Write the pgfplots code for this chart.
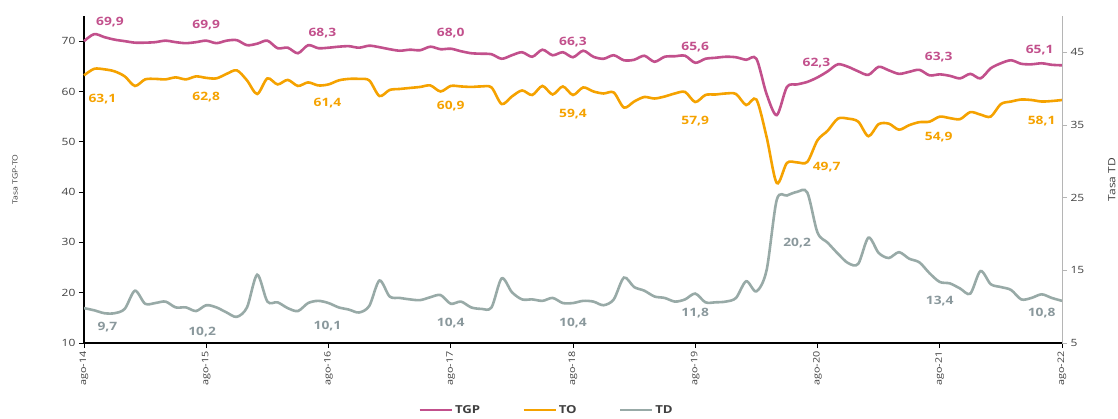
\documentclass[border=0pt]{standalone}
\usepackage{fontspec}
\setmainfont{Open Sans}[FakeStretch=1.2]
\usepackage{pgfplots}
\usepackage{pgfplotstable}
\pgfplotsset{compat=1.18}
\definecolor{cTGP}{HTML}{C2508C}
\definecolor{cTO}{HTML}{F5A200}
\definecolor{cTD}{HTML}{98AAA7}
\definecolor{cTDt}{HTML}{8A989C}
\definecolor{ctick}{HTML}{404040}
\definecolor{cright}{HTML}{B5B5B5}

\pgfplotstableread{
m tgp to td
0 70.0 63.2 9.8
1 71.4 64.5 9.5
2 70.8 64.4 9.1
3 70.3 64.0 9.1
4 70.0 63.0 9.7
5 69.7 61.1 12.2
6 69.7 62.4 10.4
7 69.8 62.5 10.5
8 70.1 62.4 10.7
9 69.8 62.8 9.9
10 69.6 62.4 9.9
11 69.8 63.0 9.4
12 70.1 62.7 10.2
13 69.6 62.6 9.9
14 70.1 63.5 9.2
15 70.2 64.2 8.6
16 69.2 62.2 9.9
17 69.5 59.5 14.4
18 70.1 62.6 10.7
19 68.6 61.4 10.6
20 68.7 62.3 9.8
21 67.6 61.1 9.4
22 69.2 61.8 10.5
23 68.6 61.2 10.8
24 68.7 61.4 10.5
25 68.9 62.2 9.9
26 69.0 62.5 9.6
27 68.7 62.5 9.2
28 69.1 62.2 10.1
29 68.8 59.1 13.6
30 68.4 60.3 11.4
31 68.1 60.5 11.2
32 68.3 60.7 11.0
33 68.2 60.9 10.9
34 68.9 61.2 11.3
35 68.4 60.0 11.6
36 68.5 61.1 10.4
37 68.0 61.0 10.7
38 67.6 60.9 9.9
39 67.5 61.0 9.7
40 67.4 60.8 9.9
41 66.5 57.5 13.9
42 67.2 59.0 12.0
43 67.8 60.2 11.0
44 66.9 59.3 11.0
45 68.3 61.1 10.8
46 67.2 59.4 11.2
47 67.8 61.0 10.5
48 66.8 59.3 10.5
49 68.1 60.8 10.8
50 66.9 60.0 10.7
51 66.5 59.6 10.2
52 67.2 59.8 11.0
53 66.2 56.8 14.0
54 66.3 58.0 12.7
55 67.1 58.9 12.2
56 65.9 58.6 11.4
57 66.9 59.0 11.2
58 67.0 59.6 10.7
59 67.1 59.9 11.0
60 65.7 57.9 11.8
61 66.5 59.3 10.6
62 66.7 59.4 10.6
63 66.9 59.6 10.7
64 66.8 59.5 11.2
65 66.3 57.3 13.5
66 66.5 58.4 12.1
67 59.5 51.0 15.0
68 55.3 41.8 24.7
69 60.9 45.8 25.3
70 61.4 45.9 25.8
71 61.9 46.0 25.7
72 62.8 50.3 20.2
73 64.0 52.2 18.8
74 65.4 54.6 17.3
75 64.9 54.6 16.0
76 64.0 54.0 15.9
77 63.3 51.1 19.5
78 64.9 53.5 17.4
79 64.2 53.6 16.7
80 63.5 52.4 17.5
81 63.9 53.3 16.6
82 64.3 53.9 16.1
83 63.2 54.0 14.6
84 63.4 55.0 13.4
85 63.1 54.7 13.2
86 62.6 54.5 12.5
87 63.5 55.9 11.8
88 62.6 55.4 14.9
89 64.6 55.0 13.1
90 65.6 57.5 12.7
91 66.2 58.0 12.3
92 65.5 58.4 11.0
93 65.4 58.3 11.2
94 65.6 58.0 11.7
95 65.3 58.1 11.2
96 65.2 58.3 10.8
}\data

\newcommand{\lab}{\fontsize{11.5}{12}\selectfont\bfseries}

\begin{document}
\begin{tikzpicture}
\useasboundingbox (0,0) rectangle (1118pt,418pt);
\begin{axis}[
  at={(84pt,75pt)}, anchor=south west,
  scale only axis, width=978pt, height=327pt,
  xmin=0, xmax=96, ymin=10, ymax=75,
  axis x line*=bottom, axis y line*=left,
  axis line style={-, black, line width=1.2pt},
  xtick={0,12,...,96},
  xticklabels={ago-14,ago-15,ago-16,ago-17,ago-18,ago-19,ago-20,ago-21,ago-22},
  xticklabel style={rotate=90, anchor=east, font=\fontsize{9}{10}\selectfont, text=ctick},
  ytick={10,20,...,70},
  yticklabel style={font=\fontsize{10}{11}\selectfont, text=ctick},
  tick align=outside, major tick length=5pt,
  tick style={black, line width=0.8pt},
  /pgf/number format/assume math mode=true,
  ylabel={Tasa TGP-TO},
  ylabel style={font=\fontsize{7.2}{8}\selectfont, text=ctick, at={(axis description cs:-0.0706,0.5)}, anchor=center},
  clip=false,
]
\addplot[cTGP, line width=2.6pt, smooth, tension=0.5] table[x=m, y=tgp] {\data};
\addplot[cTO, line width=2.6pt, smooth, tension=0.5] table[x=m, y=to] {\data};

\node[text=cTGP, font=\lab] at (axis cs:2.55,73.8) {69,9};
\node[text=cTGP, font=\lab] at (axis cs:12,73.2) {69,9};
\node[text=cTGP, font=\lab] at (axis cs:23.4,71.6) {68,3};
\node[text=cTGP, font=\lab] at (axis cs:36,71.6) {68,0};
\node[text=cTGP, font=\lab] at (axis cs:48,69.8) {66,3};
\node[text=cTGP, font=\lab] at (axis cs:60,68.8) {65,6};
\node[text=cTGP, font=\lab] at (axis cs:71.9,65.7) {62,3};
\node[text=cTGP, font=\lab] at (axis cs:83.9,66.9) {63,3};
\node[text=cTGP, font=\lab] at (axis cs:93.8,68.3) {65,1};

\node[text=cTO, font=\lab] at (axis cs:1.8,58.5) {63,1};
\node[text=cTO, font=\lab] at (axis cs:12,58.9) {62,8};
\node[text=cTO, font=\lab] at (axis cs:23.9,57.7) {61,4};
\node[text=cTO, font=\lab] at (axis cs:36,57.1) {60,9};
\node[text=cTO, font=\lab] at (axis cs:48,55.5) {59,4};
\node[text=cTO, font=\lab] at (axis cs:60,54.1) {57,9};
\node[text=cTO, font=\lab] at (axis cs:72.9,45.0) {49,7};
\node[text=cTO, font=\lab] at (axis cs:83.9,51.0) {54,9};
\node[text=cTO, font=\lab] at (axis cs:94,54.1) {58,1};

\node[text=cTDt, font=\lab] at (axis cs:2.3,13.2) {9,7};
\node[text=cTDt, font=\lab] at (axis cs:11.6,12.2) {10,2};
\node[text=cTDt, font=\lab] at (axis cs:23.9,13.4) {10,1};
\node[text=cTDt, font=\lab] at (axis cs:36,14.0) {10,4};
\node[text=cTDt, font=\lab] at (axis cs:48,14.0) {10,4};
\node[text=cTDt, font=\lab] at (axis cs:60,16.0) {11,8};
\node[text=cTDt, font=\lab] at (axis cs:70,29.9) {20,2};
\node[text=cTDt, font=\lab] at (axis cs:84,18.3) {13,4};
\node[text=cTDt, font=\lab] at (axis cs:94,16.0) {10,8};
\end{axis}

\begin{axis}[
  at={(84pt,75pt)}, anchor=south west,
  scale only axis, width=978pt, height=327pt,
  xmin=0, xmax=96, ymin=5, ymax=50,
  hide x axis,
  axis y line*=right,
  axis line style={-, cright, line width=1pt},
  ytick={5,15,...,45},
  yticklabel style={font=\fontsize{10}{11}\selectfont, text=ctick},
  tick align=outside, major tick length=5pt,
  tick style={cright, line width=0.8pt},
  /pgf/number format/assume math mode=true,
  ylabel={Tasa TD},
  ylabel style={font=\fontsize{10}{11}\selectfont, text=ctick, at={(axis description cs:1.051,0.5)}, anchor=center},
  legend columns=3,
  legend style={at={(0.473,-0.205)}, anchor=center, draw=none, fill=none,
    font=\fontsize{11}{12}\selectfont\bfseries, text=ctick,
    /tikz/every even column/.append style={column sep=40pt}},
  legend image code/.code={\draw[#1, line width=2.6pt] (0pt,0pt) -- (32pt,0pt);},
]
\addlegendimage{cTGP}
\addlegendimage{cTO}
\addplot[cTD, line width=2.6pt, smooth, tension=0.5] table[x=m, y=td] {\data};
\legend{TGP,TO,TD}
\end{axis}
\end{tikzpicture}
\end{document}
